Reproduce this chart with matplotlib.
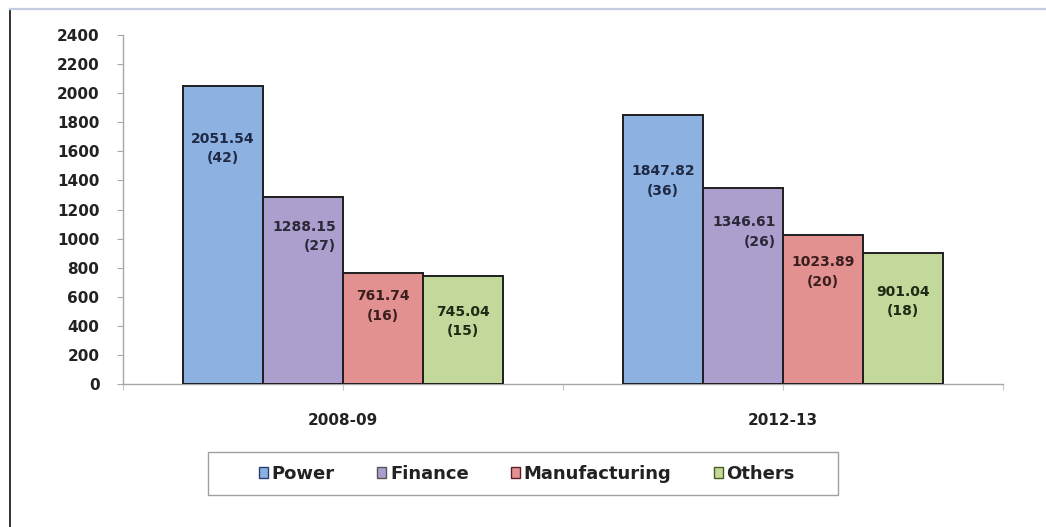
import matplotlib
matplotlib.use("Agg")
import matplotlib.pyplot as plt
from matplotlib.patches import Patch, Rectangle
from matplotlib.lines import Line2D

# ---- data ----
years = ["2008-09", "2012-13"]
sectors = ["Power", "Finance", "Manufacturing", "Others"]
power = [2051.54, 1847.82]
finance = [1288.15, 1346.61]
manufacturing = [761.74, 1023.89]
others = [745.04, 901.04]
power_share = [42, 36]
finance_share = [27, 26]
manufacturing_share = [16, 20]
others_share = [15, 18]
y_ticks = list(range(0, 2401, 200))

# ---- style ----
colors = ["#8DB1E0", "#AD9FCD", "#E29190", "#C3D99B"]
legend_edges = ["#2B3F73", "#555555", "#5A1F2A", "#4A5A22"]
text_colors = ["#1E2A45", "#2B2838", "#3A1E1E", "#1F2A14"]
# label offsets (pixels below bar top to first text line centre)
label_drop = [[54, 57], [31, 35], [24, 28], [37, 40]]
label_align = ["center", "right", "center", "center"]

W, H = 1046, 527
fig = plt.figure(figsize=(W / 100, H / 100), dpi=100)
fig.patch.set_facecolor("white")

# frame lines of the slide
fig.add_artist(Line2D([10 / W, 10 / W], [0, 1 - 10 / H], transform=fig.transFigure,
                      color="#111111", lw=1.2))
fig.add_artist(Line2D([10 / W, 1], [1 - 9 / H, 1 - 9 / H], transform=fig.transFigure,
                      color="#C3CCE0", lw=1.6))

ax = fig.add_axes([123 / W, 1 - 384 / H, 880 / W, 349 / H])
ax.set_facecolor("none")

series = [power, finance, manufacturing, others]
shares = [power_share, finance_share, manufacturing_share, others_share]
centers = [0.5, 1.5]
bw = 80 / 440
for i, (vals, shr) in enumerate(zip(series, shares)):
    xs = [c + (i - 1.5) * bw for c in centers]
    ax.bar(xs, vals, width=bw, color=colors[i], edgecolor="#1E1E1E",
           linewidth=1.4, zorder=3, label=sectors[i])
    for j, (x, v, s) in enumerate(zip(xs, vals, shr)):
        txt = f"{v:.2f}\n({s})"
        if label_align[i] == "right":
            ax.annotate(txt, xy=(x + bw / 2, v), xytext=(-7, -label_drop[i][j] + 8),
                        textcoords="offset pixels", ha="right", va="top",
                        multialignment="right", fontsize=10, fontweight="bold",
                        color=text_colors[i], linespacing=1.5, zorder=4,
                        family="DejaVu Sans")
        else:
            ax.annotate(txt, xy=(x, v), xytext=(0, -label_drop[i][j] + 8),
                        textcoords="offset pixels", ha="center", va="top",
                        multialignment="center", fontsize=10, fontweight="bold",
                        color=text_colors[i], linespacing=1.5, zorder=4,
                        family="DejaVu Sans")

ax.set_xlim(0, 2)
ax.set_ylim(0, 2400)
ax.set_yticks(y_ticks)
ax.set_yticklabels([str(t) for t in y_ticks], fontsize=11, fontweight="bold",
                   family="DejaVu Sans", color="#222222")
ax.set_xticks([0, 0.5, 1, 1.5, 2])
ax.set_xticklabels(["", years[0], "", years[1], ""], fontsize=11,
                   fontweight="bold", family="DejaVu Sans", color="#222222")
ax.tick_params(axis="y", length=4, width=0.8, color="#A8A8A8", pad=13)
ax.tick_params(axis="x", length=4, width=0.8, color="#C8C8C8", pad=17)
for s in ["top", "right"]:
    ax.spines[s].set_visible(False)
ax.spines["left"].set_color("#A8A8A8")
ax.spines["bottom"].set_color("#A8A8A8")
ax.spines["left"].set_linewidth(1.0)
ax.spines["bottom"].set_linewidth(1.0)

# legend box
fig.add_artist(Rectangle((208 / W, 1 - 495 / H), 630 / W, 43 / H,
                         transform=fig.transFigure, fill=False,
                         edgecolor="#A0A0A0", lw=1.0))
handles = [Patch(facecolor=colors[i], edgecolor=legend_edges[i], lw=1.0)
           for i in range(4)]
leg = fig.legend(handles, sectors, loc="center", ncol=4,
                 bbox_to_anchor=(527 / W, 1 - 474 / H), frameon=False,
                 handlelength=0.5, handleheight=0.5, handletextpad=0.2,
                 columnspacing=2.35,
                 prop={"family": "DejaVu Sans", "weight": "bold", "size": 13})
for t in leg.get_texts():
    t.set_color("#222222")

fig.savefig("out.png", dpi=100, facecolor="white")
